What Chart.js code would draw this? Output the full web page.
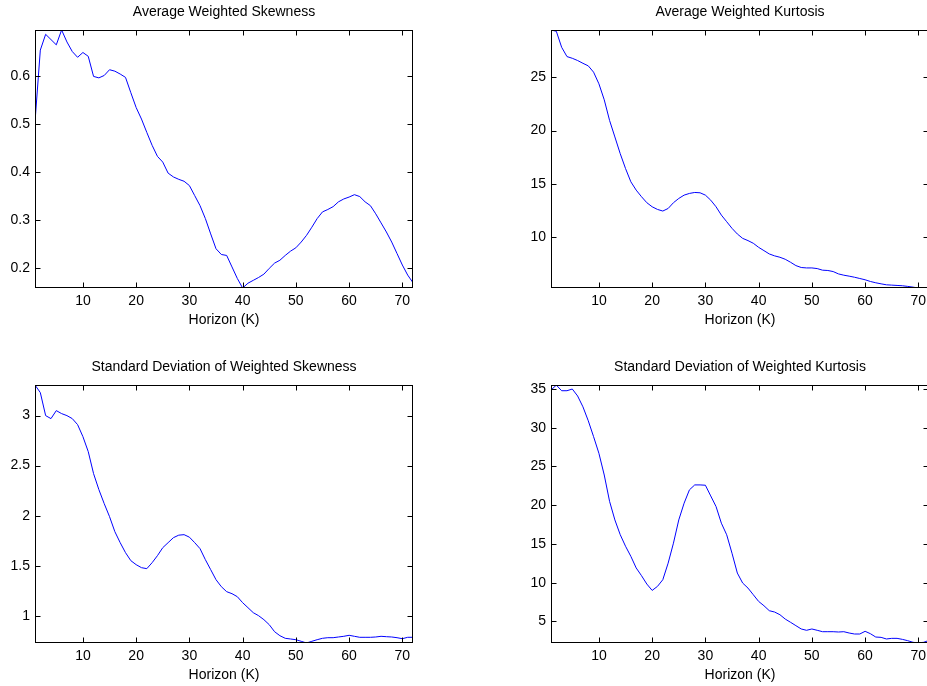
<!DOCTYPE html>
<html>
<head>
<meta charset="utf-8">
<script src="https://cdn.jsdelivr.net/npm/chart.js@4.4.0/dist/chart.umd.min.js"></script>
<style>
html, body { margin: 0; padding: 0; background: #fff; overflow: hidden; }
body { width: 927px; height: 686px; position: relative; }
canvas { position: absolute; }
</style>
</head>
<body>
<canvas id="skewMeanChart" width="414" height="330" style="left:0px;top:0px"></canvas>
<canvas id="kurtMeanChart" width="414" height="330" style="left:516px;top:0px"></canvas>
<canvas id="skewStdChart" width="414" height="330" style="left:0px;top:355px"></canvas>
<canvas id="kurtStdChart" width="414" height="330" style="left:516px;top:355px"></canvas>
<script>
var horizon = [1, 2, 3, 4, 5, 6, 7, 8, 9, 10, 11, 12, 13, 14, 15, 16, 17, 18, 19, 20,
  21, 22, 23, 24, 25, 26, 27, 28, 29, 30, 31, 32, 33, 34, 35, 36, 37, 38, 39, 40,
  41, 42, 43, 44, 45, 46, 47, 48, 49, 50, 51, 52, 53, 54, 55, 56, 57, 58, 59, 60,
  61, 62, 63, 64, 65, 66, 67, 68, 69, 70, 71, 72];
var xTicks = [10, 20, 30, 40, 50, 60, 70];

var skewMean = [0.505, 0.655, 0.688, 0.677, 0.666, 0.697, 0.672, 0.652, 0.640, 0.650,
  0.642, 0.600, 0.597, 0.602, 0.614, 0.611, 0.605, 0.598, 0.566, 0.535,
  0.511, 0.483, 0.456, 0.433, 0.421, 0.398, 0.390, 0.385, 0.381, 0.372,
  0.351, 0.330, 0.303, 0.271, 0.240, 0.228, 0.226, 0.202, 0.178, 0.158,
  0.168, 0.174, 0.180, 0.187, 0.199, 0.210, 0.216, 0.226, 0.235, 0.242,
  0.254, 0.268, 0.285, 0.303, 0.317, 0.322, 0.328, 0.338, 0.344, 0.348,
  0.353, 0.349, 0.338, 0.330, 0.313, 0.294, 0.275, 0.254, 0.230, 0.206,
  0.185, 0.169];
var skewMeanTicks = [0.2, 0.3, 0.4, 0.5, 0.6];
var skewMeanRange = [0.158, 0.697];

var kurtMean = [29.42, 29.3, 27.8, 26.93, 26.77, 26.56, 26.3, 26.06, 25.47, 24.38,
  22.88, 20.95, 19.4, 17.84, 16.44, 15.2, 14.42, 13.8, 13.24, 12.86,
  12.61, 12.46, 12.7, 13.24, 13.64, 13.95, 14.11, 14.2, 14.17, 13.95,
  13.48, 12.86, 12.08, 11.46, 10.84, 10.31, 9.9, 9.69, 9.44, 9.06,
  8.75, 8.44, 8.26, 8.13, 7.94, 7.66, 7.35, 7.17, 7.13, 7.13,
  7.07, 6.92, 6.89, 6.79, 6.57, 6.45, 6.36, 6.26, 6.14, 6.02,
  5.86, 5.74, 5.64, 5.55, 5.52, 5.49, 5.46, 5.4, 5.33, 5.25,
  5.28, 5.28];
var kurtMeanTicks = [10, 15, 20, 25];
var kurtMeanRange = [5.25, 29.42];

var skewStd = [3.306, 3.23, 3.0, 2.97, 3.05, 3.02, 3.0, 2.97, 2.91, 2.79,
  2.64, 2.42, 2.26, 2.12, 1.99, 1.84, 1.73, 1.63, 1.55, 1.51,
  1.48, 1.47, 1.53, 1.6, 1.68, 1.73, 1.78, 1.805, 1.81, 1.785,
  1.73, 1.67, 1.56, 1.46, 1.36, 1.29, 1.24, 1.22, 1.19, 1.13,
  1.08, 1.03, 1.0, 0.96, 0.91, 0.84, 0.8, 0.774, 0.767, 0.76,
  0.744, 0.727, 0.744, 0.76, 0.774, 0.78, 0.78, 0.787, 0.794, 0.804,
  0.794, 0.784, 0.784, 0.784, 0.787, 0.794, 0.79, 0.787, 0.78, 0.77,
  0.784, 0.784];
var skewStdTicks = [1, 1.5, 2, 2.5, 3];
var skewStdRange = [0.727, 3.306];

var kurtStd = [34.87, 35.5, 34.78, 34.78, 35.0, 34.1, 32.7, 30.9, 28.85, 26.7,
  23.9, 20.5, 18.1, 16.2, 14.7, 13.4, 11.9, 10.9, 9.82, 9.0,
  9.52, 10.38, 12.52, 15.1, 18.1, 20.26, 21.98, 22.62, 22.62, 22.58,
  21.2, 19.83, 17.68, 16.18, 13.8, 11.24, 9.95, 9.3, 8.44, 7.58,
  7.02, 6.38, 6.21, 5.86, 5.3, 4.88, 4.45, 4.02, 3.85, 4.02,
  3.85, 3.67, 3.67, 3.67, 3.63, 3.67, 3.5, 3.37, 3.37, 3.72,
  3.41, 2.98, 2.94, 2.73, 2.81, 2.81, 2.68, 2.51, 2.3, 2.22,
  2.3, 2.55];
var kurtStdTicks = [5, 10, 15, 20, 25, 30, 35];
var kurtStdRange = [2.21, 35.52];

var fontFamily = '"Liberation Sans", Arial, sans-serif';

// box round the axes with inward tick marks on all four sides
var matlabBox = {
  id: 'matlabBox',
  afterDraw: function (chart) {
    var ctx = chart.ctx;
    var a = chart.chartArea;
    var xs = chart.scales.x;
    var ys = chart.scales.y;
    var L = Math.floor(a.left) + 0.5, R = Math.ceil(a.right) - 0.5;
    var T = Math.floor(a.top) + 0.5, B = Math.ceil(a.bottom) - 0.5;
    ctx.save();
    ctx.strokeStyle = '#000';
    ctx.lineWidth = 1;
    ctx.strokeRect(L, T, R - L, B - T);
    ctx.beginPath();
    xs.ticks.forEach(function (t) {
      var px = Math.round(xs.getPixelForValue(t.value)) + 0.5;
      ctx.moveTo(px, B); ctx.lineTo(px, B - 5);
      ctx.moveTo(px, T); ctx.lineTo(px, T + 5);
    });
    ys.ticks.forEach(function (t) {
      var py = Math.round(ys.getPixelForValue(t.value)) + 0.5;
      ctx.moveTo(L, py); ctx.lineTo(L + 5, py);
      ctx.moveTo(R, py); ctx.lineTo(R - 5, py);
    });
    ctx.stroke();
    ctx.restore();
  }
};

function makeChart(id, title, values, yTicks, yRange) {
  var ctx = document.getElementById(id);
  return new Chart(ctx, {
    type: 'line',
    data: {
      labels: horizon,
      datasets: [{
        data: values,
        borderColor: '#0000ff',
        borderWidth: 1,
        pointRadius: 0,
        tension: 0,
        fill: false
      }]
    },
    options: {
      responsive: false,
      animation: false,
      events: [],
      layout: { padding: { right: 1 } },
      plugins: {
        legend: { display: false },
        tooltip: { enabled: false },
        title: {
          display: true,
          text: title,
          fullSize: false,
          color: '#000',
          font: { family: fontFamily, size: 14, weight: 'normal', lineHeight: 1.2 },
          padding: { top: 4, bottom: 9.2 }
        }
      },
      scales: {
        x: {
          type: 'linear',
          min: 1,
          max: 72,
          grid: { display: false, drawTicks: false },
          border: { display: false },
          ticks: {
            padding: 5,
            color: '#000',
            font: { family: fontFamily, size: 14 },
            callback: function (v) { return String(v); }
          },
          title: {
            display: true,
            text: 'Horizon (K)',
            color: '#000',
            font: { family: fontFamily, size: 14, lineHeight: 1.2 },
            padding: { top: 0, bottom: 1 }
          },
          afterBuildTicks: function (s) {
            s.ticks = xTicks.map(function (v) { return { value: v }; });
          },
          afterFit: function (s) {
            s.height = 42;
            s.paddingLeft = 0;
            s.paddingRight = 0;
          }
        },
        y: {
          type: 'linear',
          min: yRange[0],
          max: yRange[1],
          grid: { display: false, drawTicks: false },
          border: { display: false },
          ticks: {
            padding: 5,
            color: '#000',
            font: { family: fontFamily, size: 14 },
            callback: function (v) { return String(v); }
          },
          afterBuildTicks: function (s) {
            s.ticks = yTicks.map(function (v) { return { value: v }; });
          },
          afterFit: function (s) {
            s.width = 35;
            s.paddingTop = 0;
            s.paddingBottom = 0;
          }
        }
      }
    },
    plugins: [matlabBox]
  });
}

makeChart('skewMeanChart', 'Average Weighted Skewness', skewMean, skewMeanTicks, skewMeanRange);
makeChart('kurtMeanChart', 'Average Weighted Kurtosis', kurtMean, kurtMeanTicks, kurtMeanRange);
makeChart('skewStdChart', 'Standard Deviation of Weighted Skewness', skewStd, skewStdTicks, skewStdRange);
makeChart('kurtStdChart', 'Standard Deviation of Weighted Kurtosis', kurtStd, kurtStdTicks, kurtStdRange);
</script>
</body>
</html>
